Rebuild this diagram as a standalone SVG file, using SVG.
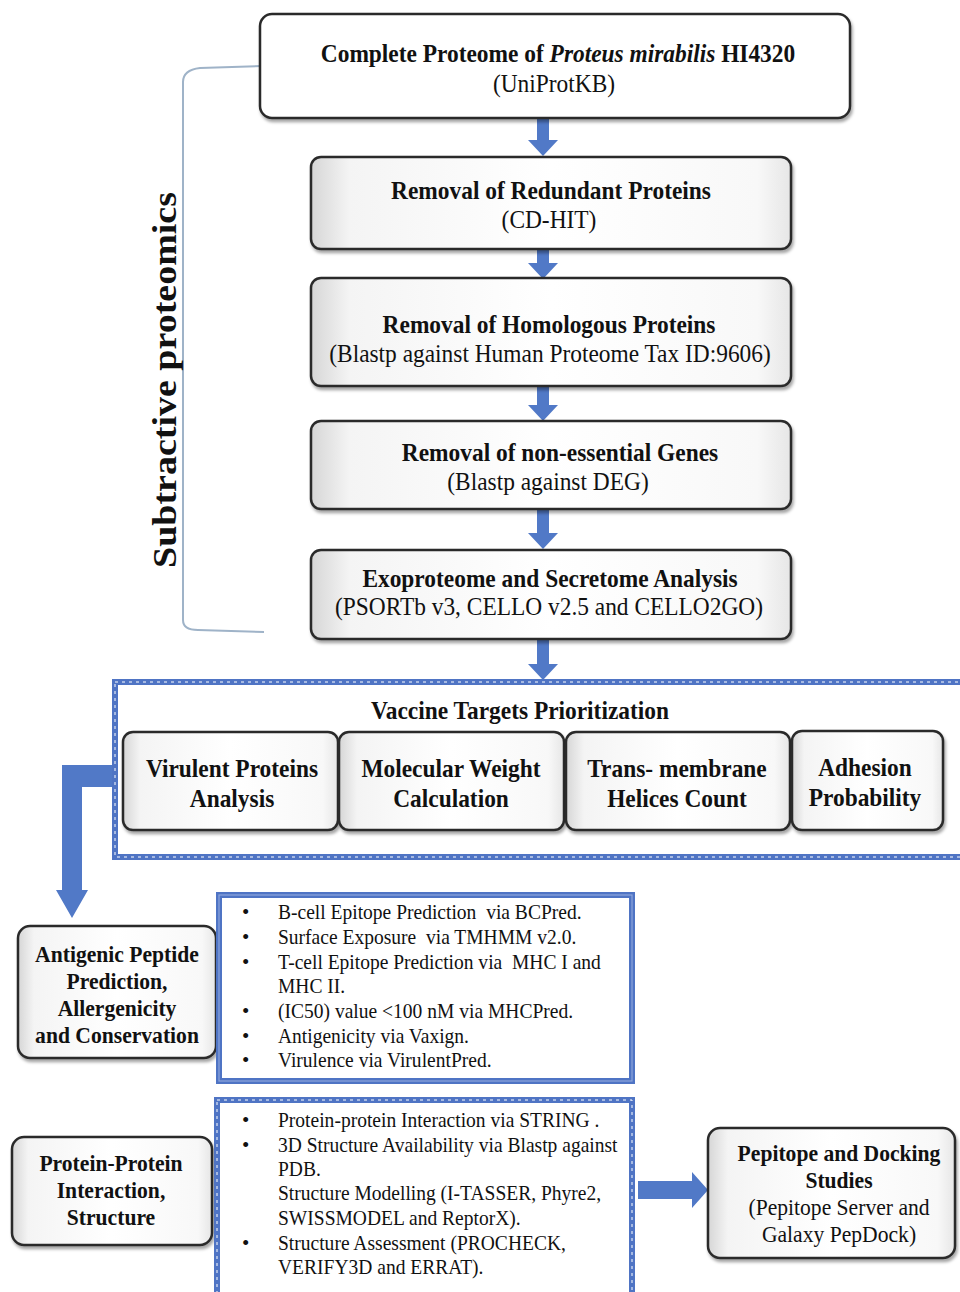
<svg xmlns="http://www.w3.org/2000/svg" width="960" height="1292" viewBox="0 0 960 1292">
<style>
.t{font-family:"Liberation Serif","Times New Roman",serif;fill:#111;}
.b{font-weight:bold;}
.h{font-size:26px;}
.m{font-size:24px;}
.s{font-size:21px;}
.box{fill:url(#bev);stroke:#2b2b2b;stroke-width:2.5;filter:url(#sh);}
.plain{fill:#fff;stroke:#2b2b2b;stroke-width:2.5;filter:url(#sh);}
.arrow{fill:#5179c7;}
.blueS{fill:none;stroke:#4f74c4;stroke-width:6;}
.blueD{fill:none;stroke:#fff;stroke-width:1;stroke-dasharray:3 4;}
.blueL{fill:none;stroke:#8ea6dc;stroke-width:1.2;}
.br{fill:none;stroke:#9fb3c8;stroke-width:2;}
</style>
<defs>
<linearGradient id="bev" x1="0" y1="0" x2="1" y2="0">
<stop offset="0" stop-color="#d6d6d6"/>
<stop offset="0.08" stop-color="#f4f4f4"/>
<stop offset="0.5" stop-color="#ffffff"/>
<stop offset="0.93" stop-color="#f8f8f8"/>
<stop offset="1" stop-color="#e6e6e6"/>
</linearGradient>
<filter id="sh" x="-5%" y="-5%" width="110%" height="120%">
<feDropShadow dx="1.5" dy="3" stdDeviation="1.8" flood-color="#000" flood-opacity="0.35"/>
</filter>
</defs>
<rect width="960" height="1292" fill="#fff"/>

<g id="bracket">
<path class="br" d="M262 66 L200 68 Q183 70 183 82 L183 620 Q183 630 198 630 L264 632"/>
<text class="t b" font-size="38" transform="translate(176,380) rotate(-90) scale(1,0.88)" text-anchor="middle">Subtractive proteomics</text>
</g>

<g id="connectors">
<polygon class="arrow" points="537,118 549,118 549,140 558,140 543,156 528,140 537,140"/>
<polygon class="arrow" points="537,250 549,250 549,263 558,263 543,279 528,263 537,263"/>
<polygon class="arrow" points="537,387 549,387 549,405 558,405 543,421 528,405 537,405"/>
<polygon class="arrow" points="537,510 549,510 549,533 558,533 543,549 528,533 537,533"/>
<polygon class="arrow" points="537,640 549,640 549,664 558,664 543,680 528,664 537,664"/>
<polygon class="arrow" points="115,765 62,765 62,890 56,890 72,918 88,890 82,890 82,787 115,787"/>
<polygon class="arrow" points="638,1181 692,1181 692,1172 708,1190 692,1208 692,1199 638,1199"/>
</g>

<g id="n1">
<rect class="plain" x="260" y="14" width="590" height="104" rx="12"/>
<text class="t h" transform="translate(558,62) scale(0.9,1)" text-anchor="middle"><tspan class="b">Complete Proteome of </tspan><tspan class="b" font-style="italic">Proteus mirabilis</tspan><tspan class="b"> HI4320</tspan></text>
<text class="t h" transform="translate(554,92) scale(0.9,1)" text-anchor="middle">(UniProtKB)</text>
</g>

<g id="n2">
<rect class="box" x="311" y="157" width="480" height="92" rx="10"/>
<text class="t h b" transform="translate(551,199) scale(0.9,1)" text-anchor="middle">Removal of Redundant Proteins</text>
<text class="t h" transform="translate(549,228) scale(0.9,1)" text-anchor="middle">(CD-HIT)</text>
</g>

<g id="n3">
<rect class="box" x="311" y="278" width="480" height="108" rx="10"/>
<text class="t h b" transform="translate(549,333) scale(0.9,1)" text-anchor="middle">Removal of Homologous Proteins</text>
<text class="t h" transform="translate(550,362) scale(0.9,1)" text-anchor="middle">(Blastp against Human Proteome Tax ID:9606)</text>
</g>

<g id="n4">
<rect class="box" x="311" y="421" width="480" height="88" rx="10"/>
<text class="t h b" transform="translate(560,461) scale(0.9,1)" text-anchor="middle">Removal of non-essential Genes</text>
<text class="t h" transform="translate(548,490) scale(0.9,1)" text-anchor="middle">(Blastp against DEG)</text>
</g>

<g id="n5">
<rect class="box" x="311" y="550" width="480" height="89" rx="10"/>
<text class="t h b" transform="translate(550,587) scale(0.9,1)" text-anchor="middle">Exoproteome and Secretome Analysis</text>
<text class="t h" transform="translate(549,615) scale(0.9,1)" text-anchor="middle">(PSORTb v3, CELLO v2.5 and CELLO2GO)</text>
</g>

<g id="vaccine">
<rect class="blueS" x="115" y="682" width="860" height="175"/>
<rect class="blueD" x="115" y="682" width="860" height="175"/>
<text class="t h b" transform="translate(520,719) scale(0.9,1)" text-anchor="middle">Vaccine Targets Prioritization</text>
</g>

<g id="v1">
<rect class="box" x="123" y="732" width="215" height="98" rx="10"/>
<text class="t h b" transform="translate(232,777) scale(0.9,1)" text-anchor="middle">Virulent Proteins</text>
<text class="t h b" transform="translate(232,807) scale(0.9,1)" text-anchor="middle">Analysis</text>
</g>
<g id="v2">
<rect class="box" x="339" y="732" width="225" height="98" rx="10"/>
<text class="t h b" transform="translate(451,777) scale(0.9,1)" text-anchor="middle">Molecular Weight</text>
<text class="t h b" transform="translate(451,807) scale(0.9,1)" text-anchor="middle">Calculation</text>
</g>
<g id="v3">
<rect class="box" x="566" y="732" width="224" height="98" rx="10"/>
<text class="t h b" transform="translate(677,777) scale(0.9,1)" text-anchor="middle">Trans- membrane</text>
<text class="t h b" transform="translate(677,807) scale(0.9,1)" text-anchor="middle">Helices Count</text>
</g>
<g id="v4">
<rect class="box" x="792" y="731" width="151" height="99" rx="10"/>
<text class="t h b" transform="translate(865,776) scale(0.9,1)" text-anchor="middle">Adhesion</text>
<text class="t h b" transform="translate(865,806) scale(0.9,1)" text-anchor="middle">Probability</text>
</g>

<g id="antigenic">
<rect class="box" x="18" y="926" width="198" height="132" rx="12"/>
<text class="t m b" transform="translate(117,962) scale(0.9,1)" text-anchor="middle">Antigenic Peptide</text>
<text class="t m b" transform="translate(117,989) scale(0.9,1)" text-anchor="middle">Prediction,</text>
<text class="t m b" transform="translate(117,1016) scale(0.9,1)" text-anchor="middle">Allergenicity</text>
<text class="t m b" transform="translate(117,1043) scale(0.9,1)" text-anchor="middle">and Conservation</text>
</g>

<g id="list1">
<rect class="blueS" x="219" y="895" width="413" height="186"/>
<rect class="blueL" x="219" y="895" width="413" height="186"/>
<g class="t s">
<text x="242" y="919">•</text>
<text x="242" y="944">•</text>
<text x="242" y="969">•</text>
<text x="242" y="1018">•</text>
<text x="242" y="1043">•</text>
<text x="242" y="1067">•</text>
</g>
<g class="t s" transform="translate(278,0) scale(0.93,1)">
<text x="0" y="919" xml:space="preserve">B-cell Epitope Prediction  via BCPred.</text>
<text x="0" y="944" xml:space="preserve">Surface Exposure  via TMHMM v2.0.</text>
<text x="0" y="969" xml:space="preserve">T-cell Epitope Prediction via  MHC I and</text>
<text x="0" y="993">MHC II.</text>
<text x="0" y="1018">(IC50) value &lt;100 nM via MHCPred.</text>
<text x="0" y="1043">Antigenicity via Vaxign.</text>
<text x="0" y="1067">Virulence via VirulentPred.</text>
</g>
</g>

<g id="ppi">
<rect class="box" x="12" y="1137" width="200" height="108" rx="12"/>
<text class="t m b" transform="translate(111,1171) scale(0.9,1)" text-anchor="middle">Protein-Protein</text>
<text class="t m b" transform="translate(111,1198) scale(0.9,1)" text-anchor="middle">Interaction,</text>
<text class="t m b" transform="translate(111,1225) scale(0.9,1)" text-anchor="middle">Structure</text>
</g>

<g id="list2">
<rect class="blueS" x="217" y="1100" width="415" height="200"/>
<rect class="blueD" x="217" y="1100" width="415" height="200"/>
<g class="t s">
<text x="242" y="1127">•</text>
<text x="242" y="1152">•</text>
<text x="242" y="1250">•</text>
</g>
<g class="t s" transform="translate(278,0) scale(0.93,1)">
<text x="0" y="1127" xml:space="preserve">Protein-protein Interaction via STRING .</text>
<text x="0" y="1152">3D Structure Availability via Blastp against</text>
<text x="0" y="1176">PDB.</text>
<text x="0" y="1200">Structure Modelling (I-TASSER, Phyre2,</text>
<text x="0" y="1225">SWISSMODEL and ReptorX).</text>
<text x="0" y="1250">Structure Assessment (PROCHECK,</text>
<text x="0" y="1274">VERIFY3D and ERRAT).</text>
</g>
</g>

<g id="pepitope">
<rect class="box" x="708" y="1128" width="247" height="130" rx="12"/>
<text class="t m b" transform="translate(839,1161) scale(0.9,1)" text-anchor="middle">Pepitope and Docking</text>
<text class="t m b" transform="translate(839,1188) scale(0.9,1)" text-anchor="middle">Studies</text>
<text class="t m" transform="translate(839,1215) scale(0.9,1)" text-anchor="middle">(Pepitope Server and</text>
<text class="t m" transform="translate(839,1242) scale(0.9,1)" text-anchor="middle">Galaxy PepDock)</text>
</g>
</svg>
